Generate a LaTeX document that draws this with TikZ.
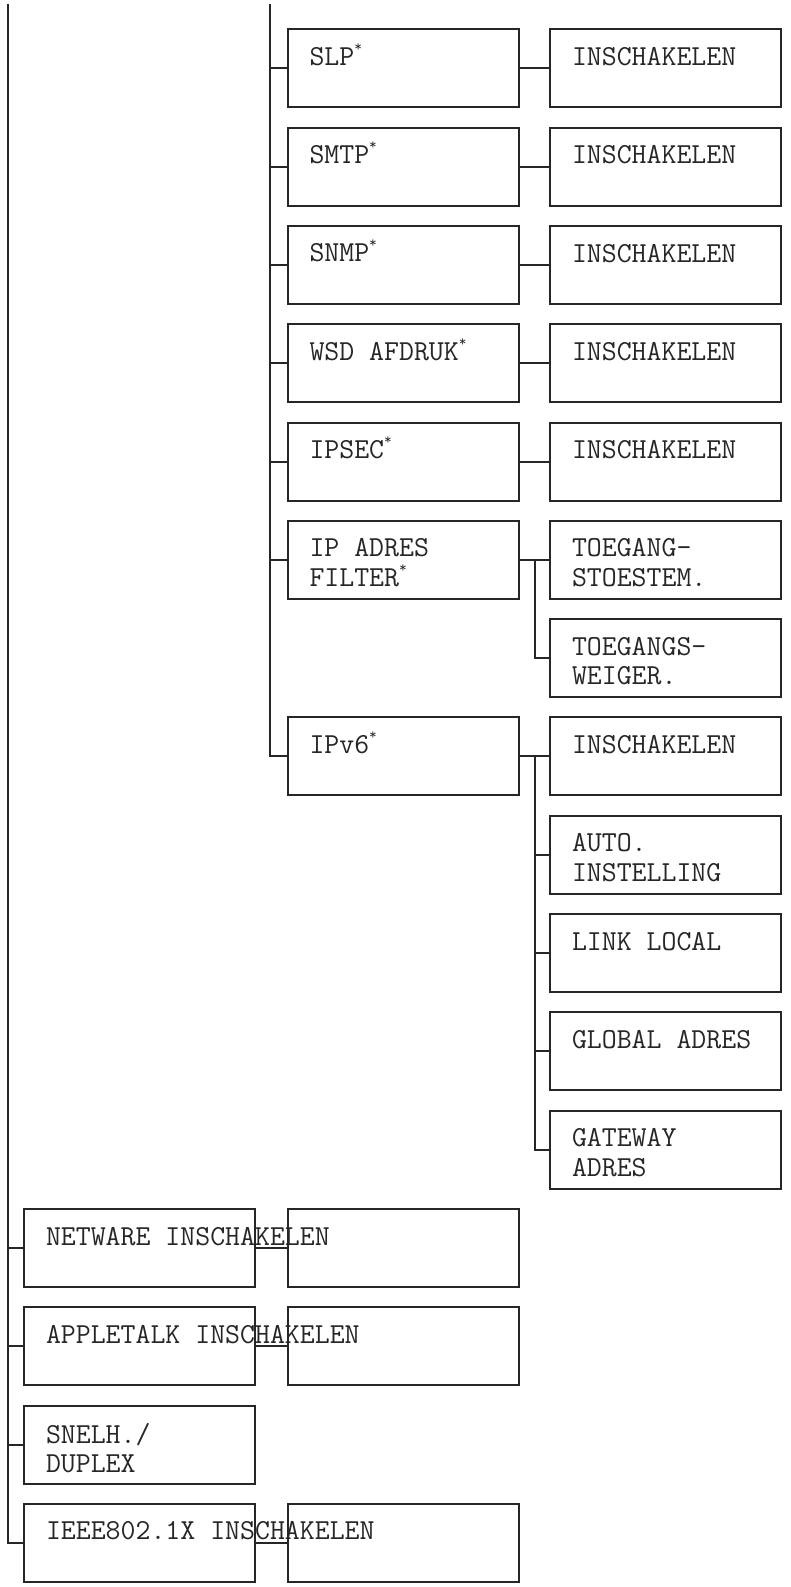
\documentclass[tikz,border=0pt]{standalone}
\newcommand{\astx}{\raisebox{14pt}[0pt][0pt]{\fontsize{15}{15}\selectfont *}}
\newcommand{\menufont}{\fontsize{29}{29.3}\selectfont\ttfamily}
\begin{document}
\begin{tikzpicture}[x=1pt,y=-1pt,line width=2pt,color=black!85,
  box/.style={draw,anchor=north west,minimum width=231pt,minimum height=78pt,inner sep=0pt},
  txt/.style={label={[anchor=north west,align=left,inner sep=0pt,xshift=22pt,yshift=-18pt,font=\menufont]north west:#1}}]
  \useasboundingbox (0,0) rectangle (790,1587);
  \coordinate (ltop) at (7.5,4);
  \coordinate (mtop) at (269.5,4);
  % second level
  \node[box,txt=SLP\astx] (slp) at (286.5,28.3) {};
  \node[box,txt=SMTP\astx] (smtp) at (286.5,126.6) {};
  \node[box,txt=SNMP\astx] (snmp) at (286.5,224.9) {};
  \node[box,txt=WSD AFDRUK\astx] (wsd) at (286.5,323.2) {};
  \node[box,txt=IPSEC\astx] (ipsec) at (286.5,421.5) {};
  \node[box,txt={IP ADRES\\FILTER\astx}] (ipf) at (286.5,519.8) {};
  \node[box,txt=IPv6\astx] (ipv6) at (286.5,716.4) {};
  % third level
  \foreach \n/\y in {slpon/28.3,smtpon/126.6,snmpon/224.9,wsdon/323.2,ipsecon/421.5,ipv6on/716.4}
    \node[box,txt=INSCHAKELEN] (\n) at (549,\y) {};
  \node[box,txt={TOEGANG-\\STOESTEM.}] (ipfok) at (549,519.8) {};
  \node[box,txt={TOEGANGS-\\WEIGER.}] (ipfno) at (549,618.1) {};
  \node[box,txt={AUTO.\\INSTELLING}] (auto) at (549,814.7) {};
  \node[box,txt=LINK LOCAL] (link) at (549,913.0) {};
  \node[box,txt=GLOBAL ADRES] (glob) at (549,1011.3) {};
  \node[box,txt={GATEWAY\\ADRES}] (gate) at (549,1109.6) {};
  % first level
  \node[box] (netwon) at (286.5,1207.9) {};
  \node[box] (atalkon) at (286.5,1306.2) {};
  \node[box] (ieeeon) at (286.5,1502.8) {};
  \node[box,txt=NETWARE INSCHAKELEN] (netw) at (23,1207.9) {};
  \node[box,txt=APPLETALK INSCHAKELEN] (atalk) at (23,1306.2) {};
  \node[box,txt={SNELH./\\DUPLEX}] (speed) at (23,1404.5) {};
  \node[box,txt=IEEE802.1X INSCHAKELEN] (ieee) at (23,1502.8) {};
  % connectors
  \draw (ltop) |- (ieee.west);
  \foreach \n in {netw,atalk,speed} \draw (ltop |- \n.west) -- (\n.west);
  \draw (mtop) |- (ipv6.west);
  \foreach \n in {slp,smtp,snmp,wsd,ipsec,ipf} \draw (mtop |- \n.west) -- (\n.west);
  \foreach \a/\b in {slp/slpon,smtp/smtpon,snmp/snmpon,wsd/wsdon,ipsec/ipsecon,ipf/ipfok,ipv6/ipv6on,netw/netwon,atalk/atalkon,ieee/ieeeon}
    \draw (\a.east) -- (\b.west);
  \coordinate (ipfk) at ([xshift=15pt]ipf.east);
  \draw (ipfk) |- (ipfno.west);
  \coordinate (v6fk) at ([xshift=15pt]ipv6.east);
  \draw (v6fk) |- (gate.west);
  \foreach \n in {auto,link,glob} \draw (v6fk |- \n.west) -- (\n.west);
\end{tikzpicture}
\end{document}
